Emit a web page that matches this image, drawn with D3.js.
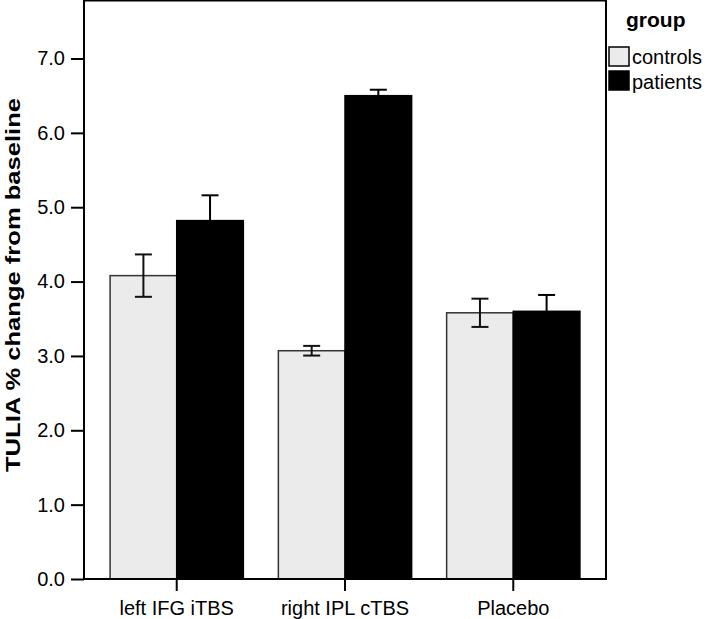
<!DOCTYPE html>
<html><head><meta charset="utf-8">
<script src="https://cdn.jsdelivr.net/npm/d3@7"></script>
<style>body{margin:0;background:#fff}svg{display:block}text{font-family:"Liberation Sans",Arial,sans-serif}</style>
</head><body>
<script>
const categories = ["left IFG iTBS", "right IPL cTBS", "Placebo"];
const groups = ["controls", "patients"];
const controls = [4.08, 3.07, 3.58];
const patients = [4.82, 6.50, 3.60];
const controlsErr = [0.285, 0.065, 0.19];
const patientsErr = [0.34, 0.08, 0.22];
const yTicks = [0, 1, 2, 3, 4, 5, 6, 7];
const yMax = 7.78;

const W = 705, H = 619;
const m = {left: 84, right: 606, top: 0.5, bottom: 579};
const svg = d3.select("body").append("svg").attr("width", W).attr("height", H);

const x = d3.scaleBand().domain(categories).range([m.left, m.right])
  .paddingInner(0.208).paddingOuter(0.155);
const xs = d3.scaleBand().domain(groups).range([0, x.bandwidth()]);
const y = d3.scaleLinear().domain([0, yMax]).range([m.bottom, m.top]);
const fills = {controls: "#ebebeb", patients: "#000"};
const strokes = {controls: "#333", patients: "#000"};

const data = [];
categories.forEach((c, i) => {
  data.push({cat: c, g: "controls", v: controls[i], e: controlsErr[i]});
  data.push({cat: c, g: "patients", v: patients[i], e: patientsErr[i]});
});

// bars
svg.append("g").selectAll("rect").data(data).join("rect")
  .attr("x", d => x(d.cat) + xs(d.g))
  .attr("y", d => y(d.v))
  .attr("width", xs.bandwidth())
  .attr("height", d => y(0) - y(d.v))
  .attr("fill", d => fills[d.g])
  .attr("stroke", d => strokes[d.g])
  .attr("stroke-width", 1.5);

// error bars
const eg = svg.append("g").attr("stroke-width", 2);
data.forEach(d => {
  const cx = x(d.cat) + xs(d.g) + xs.bandwidth() / 2;
  const col = d.g === "patients" ? "#000" : "#111";
  eg.append("line").attr("x1", cx).attr("x2", cx).attr("y1", y(d.v + d.e)).attr("y2", y(d.v - d.e)).attr("stroke", col);
  [d.v + d.e, d.v - d.e].forEach(v => {
    eg.append("line").attr("x1", cx - 8.5).attr("x2", cx + 8.5).attr("y1", y(v)).attr("y2", y(v)).attr("stroke", col);
  });
});

// frame
svg.append("rect").attr("x", m.left).attr("y", m.top)
  .attr("width", m.right - m.left).attr("height", m.bottom - m.top)
  .attr("fill", "none").attr("stroke", "#000").attr("stroke-width", 2);

// y axis
const ya = svg.append("g").attr("transform", `translate(${m.left},0)`)
  .call(d3.axisLeft(y).tickValues(yTicks).tickFormat(d3.format(".1f")).tickSize(13).tickPadding(6));
ya.select(".domain").remove();
ya.selectAll(".tick line").attr("stroke", "#000").attr("stroke-width", 2);
ya.selectAll(".tick text").attr("font-size", 20).attr("fill", "#000").style("font-family", '"Liberation Sans",Arial,sans-serif');

// x axis
const xa = svg.append("g").attr("transform", `translate(0,${m.bottom})`)
  .call(d3.axisBottom(x).tickSize(12).tickPadding(10));
xa.select(".domain").remove();
xa.selectAll(".tick line").attr("stroke", "#000").attr("stroke-width", 2);
xa.selectAll(".tick text").attr("font-size", 20).attr("fill", "#000").style("font-family", '"Liberation Sans",Arial,sans-serif');

// y title
svg.append("text")
  .attr("transform", "translate(20,285) rotate(-90)")
  .attr("text-anchor", "middle")
  .attr("font-size", 21).attr("font-weight", "bold")
  .attr("textLength", 374).attr("lengthAdjust", "spacingAndGlyphs")
  .text("TULIA % change from baseline");

// legend
const lg = svg.append("g");
lg.append("text").attr("x", 626).attr("y", 27).attr("font-size", 21).attr("font-weight", "bold").text("group");
groups.forEach((g, i) => {
  lg.append("rect").attr("x", 609).attr("y", 47 + i * 24).attr("width", 20).attr("height", 19)
    .attr("fill", fills[g]).attr("stroke", "#000").attr("stroke-width", 1.5);
  lg.append("text").attr("x", 632).attr("y", 64 + i * 25).attr("font-size", 20).text(g);
});
</script>
</body></html>
